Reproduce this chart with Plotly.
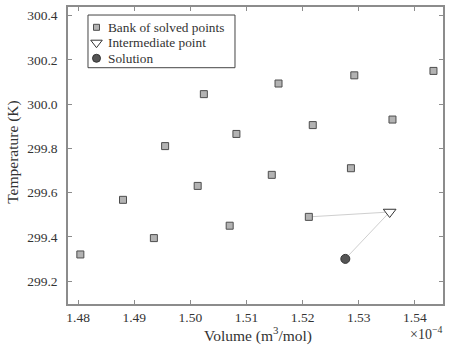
import plotly.graph_objects as go

# Data (volume in units of 1e-4 m^3/mol, temperature in K)
bank_volume = [1.4804, 1.4880, 1.4935, 1.4955, 1.5013, 1.5024, 1.5070, 1.5082,
               1.5145, 1.5157, 1.5211, 1.5218, 1.5286, 1.5292, 1.5360, 1.5433]
bank_temp = [299.32, 299.567, 299.394, 299.81, 299.63, 300.045, 299.45, 299.865,
             299.68, 300.093, 299.49, 299.905, 299.71, 300.13, 299.93, 300.15]
start_volume = [1.5211]
start_temp = [299.49]
inter_volume = [1.5355]
inter_temp = [299.512]
sol_volume = [1.5276]
sol_temp = [299.30]

x_ticks = [1.48, 1.49, 1.50, 1.51, 1.52, 1.53, 1.54]
y_ticks = [299.2, 299.4, 299.6, 299.8, 300.0, 300.2, 300.4]

legend_labels = ["Bank of solved points", "Intermediate point", "Solution"]

FONT = "Liberation Serif"
AX = "#8c8c8c"
TXT = "#333333"

sq = dict(symbol="square", size=7, color="#b3b3b3", line=dict(color="#4d4d4d", width=1))
tri = dict(symbol="triangle-down", size=11, color="white", line=dict(color="#333333", width=1))
circ = dict(symbol="circle", size=9, color="#555555", line=dict(color="#333333", width=1))

fig = go.Figure()
fig.add_trace(go.Scatter(x=start_volume + inter_volume + sol_volume,
                         y=start_temp + inter_temp + sol_temp,
                         mode="lines", line=dict(color="#cfcfcf", width=1),
                         showlegend=False, hoverinfo="skip"))
fig.add_trace(go.Scatter(x=bank_volume, y=bank_temp, mode="markers",
                         name=legend_labels[0], marker=sq, showlegend=False))
fig.add_trace(go.Scatter(x=inter_volume, y=inter_temp, mode="markers",
                         name=legend_labels[1], marker=tri, showlegend=False))
fig.add_trace(go.Scatter(x=sol_volume, y=sol_temp, mode="markers",
                         name=legend_labels[2], marker=circ, showlegend=False))

# Custom legend (box in paper coordinates, glyphs on a hidden overlay axis)
leg_x0, leg_x1, leg_y0, leg_y1 = 0.0533, 0.4453, 0.7956, 0.973
leg_mx, leg_tx = 0.076, 0.101
leg_rows = [0.9316, 0.8798, 0.8273]
leg_markers = [dict(sq, size=6), dict(tri, size=10), dict(circ, size=8)]
for row, lab, mk in zip(leg_rows, legend_labels, leg_markers):
    fig.add_trace(go.Scatter(x=[leg_mx], y=[row], xaxis="x2", yaxis="y2",
                             mode="markers", marker=mk, showlegend=False,
                             hoverinfo="skip"))

axis_common = dict(showgrid=False, zeroline=False, showline=True, linecolor=AX,
                   linewidth=1.5, mirror="ticks", ticks="inside", ticklen=4,
                   tickcolor=AX, tickwidth=1, automargin=False,
                   tickfont=dict(family=FONT, size=13.5, color=TXT))

annotations = [
    dict(text="Volume (m<sup>3</sup>/mol)", xref="paper", yref="paper",
         x=0.507, y=-0.104, xanchor="center", yanchor="middle", showarrow=False,
         font=dict(family=FONT, size=15.5, color=TXT)),
    dict(text="Temperature (K)", xref="paper", yref="paper",
         x=-0.147, y=0.512, xanchor="center", yanchor="middle", textangle=-90,
         showarrow=False, font=dict(family=FONT, size=15.5, color=TXT)),
    dict(text="×10<sup>−4</sup>", xref="paper", yref="paper",
         x=1.003, y=-0.098, xanchor="right", yanchor="middle",
         showarrow=False, font=dict(family=FONT, size=14, color=TXT)),
]
for row, lab in zip(leg_rows, legend_labels):
    annotations.append(dict(text=lab, xref="paper", yref="paper", x=leg_tx, y=row,
                            xanchor="left", yanchor="middle", showarrow=False,
                            font=dict(family=FONT, size=13.3, color=TXT)))

fig.update_layout(
    width=453, height=352,
    margin=dict(l=68, r=10, t=7, b=48),
    paper_bgcolor="white", plot_bgcolor="white",
    font=dict(family=FONT, size=12, color=TXT),
    showlegend=False,
    xaxis=dict(range=[1.4782, 1.5450], tickvals=x_ticks,
               ticktext=[f"{v:.2f}" for v in x_ticks],
               ticklabelstandoff=0, **axis_common),
    yaxis=dict(range=[299.096, 300.439], tickvals=y_ticks,
               ticktext=[f"{v:.1f}" for v in y_ticks],
               ticklabelstandoff=6, **axis_common),
    xaxis2=dict(overlaying="x", range=[0, 1], visible=False, fixedrange=True),
    yaxis2=dict(overlaying="y", range=[0, 1], visible=False, fixedrange=True),
    shapes=[dict(type="rect", xref="paper", yref="paper", x0=leg_x0, x1=leg_x1,
                 y0=leg_y0, y1=leg_y1, line=dict(color="#444444", width=1),
                 fillcolor="white", layer="below")],
    annotations=annotations,
)

fig.write_html("out.html", config={"displayModeBar": False},
               post_script="document.body.style.margin='0';")
